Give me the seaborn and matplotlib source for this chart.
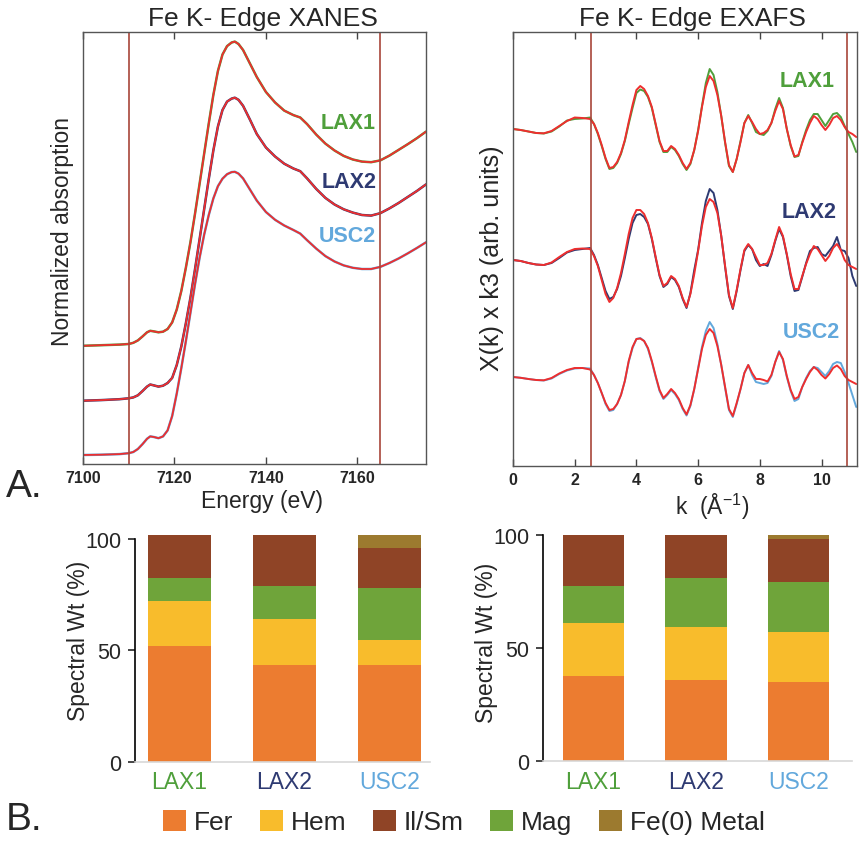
import numpy as np
import pandas as pd
import seaborn as sns
import matplotlib.pyplot as plt
from matplotlib.patches import Patch

sns.set_style('white')
plt.rcParams['font.family'] = ['Liberation Sans', 'DejaVu Sans']
plt.rcParams['mathtext.default'] = 'regular'

samples = ['LAX1', 'LAX2', 'USC2']
sample_colors = ['#4f9f3b', '#2e3a72', '#62a8dc']
fit_color = '#ee2e2e'
window_color = '#a8453a'

# Fe K-edge XANES, normalized absorption (stacked as drawn)
energy = [7100, 7104, 7108, 7110, 7111, 7112, 7113, 7114, 7114.7, 7115.5,
          7116.5, 7117.5, 7118.5, 7119.5, 7120.5, 7121.5, 7122.5, 7123.5, 7124.5, 7125.5,
          7126.5, 7127.5, 7128.5, 7129.5, 7130.5, 7131.5, 7132.5, 7133.2, 7134, 7135,
          7136.5, 7138, 7140, 7142, 7144, 7146, 7147.5, 7149, 7151, 7153,
          7155, 7157, 7159, 7161, 7163, 7165, 7167, 7169, 7171, 7173,
          7175]
xanes_lax1 = [0.394, 0.396, 0.398, 0.400, 0.404, 0.412, 0.425, 0.439, 0.444, 0.442,
              0.439, 0.441, 0.450, 0.472, 0.515, 0.577, 0.655, 0.740, 0.835, 0.935,
              1.035, 1.135, 1.230, 1.310, 1.365, 1.393, 1.405, 1.408, 1.400, 1.380,
              1.335, 1.290, 1.240, 1.205, 1.178, 1.163, 1.155, 1.133, 1.098, 1.068,
              1.045, 1.027, 1.015, 1.008, 1.006, 1.012, 1.028, 1.047, 1.066, 1.086,
              1.108]
xanes_lax2 = [0.211, 0.213, 0.216, 0.219, 0.222, 0.229, 0.243, 0.258, 0.265, 0.262,
              0.258, 0.261, 0.270, 0.287, 0.330, 0.392, 0.470, 0.555, 0.650, 0.750,
              0.850, 0.950, 1.045, 1.125, 1.180, 1.208, 1.218, 1.221, 1.214, 1.194,
              1.148, 1.100, 1.055, 1.025, 1.001, 0.985, 0.976, 0.952, 0.917, 0.887,
              0.865, 0.849, 0.838, 0.830, 0.828, 0.836, 0.852, 0.870, 0.890, 0.910,
              0.932]
xanes_usc2 = [0.030, 0.031, 0.033, 0.036, 0.040, 0.050, 0.066, 0.084, 0.092, 0.090,
              0.086, 0.092, 0.112, 0.160, 0.235, 0.320, 0.410, 0.505, 0.600, 0.688,
              0.765, 0.830, 0.885, 0.926, 0.951, 0.966, 0.973, 0.974, 0.968, 0.952,
              0.915, 0.878, 0.840, 0.814, 0.795, 0.780, 0.768, 0.746, 0.718, 0.693,
              0.675, 0.662, 0.654, 0.650, 0.650, 0.657, 0.670, 0.685, 0.702, 0.720,
              0.739]
xanes_window = [7110, 7165]

# Fe K-edge EXAFS, chi(k)*k^3 (data and LCF fit)
k = [0, 0.25, 0.5, 0.75, 1.0, 1.25, 1.5, 1.75, 2.0, 2.25,
     2.5, 2.625, 2.75, 2.875, 3.0, 3.125, 3.25, 3.375, 3.5, 3.625,
     3.75, 3.875, 4.0, 4.125, 4.25, 4.375, 4.5, 4.625, 4.75, 4.875,
     5.0, 5.125, 5.25, 5.375, 5.5, 5.625, 5.75, 5.875, 6.0, 6.125,
     6.25, 6.375, 6.5, 6.625, 6.75, 6.875, 7.0, 7.125, 7.25, 7.375,
     7.5, 7.625, 7.75, 7.875, 8.0, 8.125, 8.25, 8.375, 8.5, 8.625,
     8.75, 8.875, 9.0, 9.125, 9.25, 9.375, 9.5, 9.625, 9.75, 9.875,
     10.0, 10.125, 10.25, 10.375, 10.5, 10.625, 10.75, 10.875, 11.0, 11.125]
exafs_lax1 = [0.0, -0.1, -0.25, -0.4, -0.45, -0.25, 0.25, 0.85, 1.0, 1.05,
              1.15, 0.5, -0.5, -1.7, -3.0, -4.0, -3.9, -3.4, -2.5, -1.2,
              0.5, 2.1, 3.6, 3.95, 3.8, 3.2, 2.1, 0.4, -1.3, -2.3,
              -2.3, -1.8, -2.1, -2.7, -3.5, -4.1, -3.5, -2.1, -0.1, 2.3,
              4.6, 6.0, 5.4, 3.7, 1.3, -1.4, -3.7, -4.3, -3.0, -1.2,
              0.6, 1.4, 0.6, -0.3, -0.5, -0.6, -0.2, 0.6, 2.0, 3.1,
              2.1, 0.0, -1.7, -2.8, -2.7, -1.3, -0.1, 0.9, 1.5, 1.5,
              0.9, 0.3, 0.9, 1.5, 1.6, 1.2, 0.3, -0.5, -1.3, -2.3]
fit_lax1 = [0.0, -0.1, -0.25, -0.4, -0.43, -0.2, 0.3, 0.8, 1.15, 1.1,
            1.0, 0.5, -0.4, -1.6, -2.9, -3.9, -3.8, -3.3, -2.4, -1.1,
            0.7, 2.4, 3.9, 4.3, 4.0, 3.3, 2.2, 0.5, -1.2, -2.2,
            -2.2, -1.7, -2.0, -2.6, -3.4, -4.0, -3.4, -2.1, -0.2, 2.2,
            4.2, 5.3, 4.8, 3.4, 1.3, -1.3, -3.6, -4.3, -3.0, -1.3,
            0.6, 1.3, 0.7, 0.0, -0.5, -0.4, -0.1, 0.6, 1.8, 2.8,
            2.0, 0.0, -1.6, -2.75, -2.6, -1.4, -0.3, 0.6, 1.3, 1.0,
            0.4, -0.1, 0.4, 1.1, 1.3, 0.9, 0.2, -0.3, -0.5, -0.8]
exafs_lax2 = [0.0, -0.1, -0.3, -0.45, -0.5, -0.3, 0.2, 0.75, 1.0, 1.1,
              1.2, 0.5, -0.5, -1.8, -3.1, -3.9, -3.7, -2.9, -1.6, 0.2,
              2.1, 3.7, 4.5, 4.6, 4.3, 3.6, 2.1, 0.2, -1.6, -2.7,
              -2.4, -1.7, -2.0, -2.7, -3.9, -4.8, -3.3, -1.0, 1.0, 3.7,
              5.9, 7.1, 6.7, 5.0, 2.4, -0.7, -3.6, -4.9, -3.1, -1.0,
              0.9, 1.5, 1.1, 0.0, -0.6, -0.4, -0.6, 0.5, 1.9, 3.1,
              2.3, 0.5, -1.6, -3.1, -3.0, -1.7, -0.3, 0.9, 1.2, 1.3,
              0.6, 0.4, 0.9, 1.4, 2.3, 1.0, 0.9, 0.2, -1.6, -2.6]
fit_lax2 = [0.0, -0.1, -0.3, -0.45, -0.5, -0.25, 0.3, 0.8, 1.1, 1.15,
            1.1, 0.4, -0.6, -2.0, -3.4, -4.2, -3.8, -2.8, -1.3, 0.6,
            2.6, 4.2, 5.0, 5.0, 4.6, 3.7, 2.2, 0.3, -1.5, -2.6,
            -2.3, -1.6, -1.9, -2.6, -3.8, -4.7, -3.4, -1.4, 0.9, 3.4,
            5.3, 6.1, 5.8, 4.7, 2.4, -0.6, -3.5, -4.8, -3.0, -0.9,
            1.0, 1.6, 1.1, 0.3, -0.5, -0.5, -0.3, 0.6, 2.0, 3.3,
            2.4, 0.6, -1.4, -2.9, -2.9, -1.6, -0.4, 0.6, 1.4, 1.1,
            0.5, -0.1, 0.4, 1.2, 1.6, 1.0, 0.0, -0.5, -0.7, -0.9]
exafs_usc2 = [0.0, -0.08, -0.2, -0.3, -0.35, -0.15, 0.3, 0.65, 0.85, 0.9,
              0.85, 0.2, -0.6, -1.6, -2.7, -3.4, -3.3, -2.7, -1.8, -0.4,
              1.5, 2.9, 3.8, 3.9, 3.6, 2.8, 1.5, 0.0, -1.4, -2.2,
              -1.8, -1.3, -1.7, -2.3, -3.2, -3.85, -2.9, -1.2, 0.9, 3.0,
              4.6, 5.5, 4.9, 3.3, 1.2, -1.1, -3.3, -4.0, -2.7, -1.2,
              0.4, 1.2, 0.2, -0.5, -0.6, -0.7, -0.6, 0.1, 1.5, 2.6,
              1.7, 0.0, -1.4, -2.4, -2.2, -1.0, -0.1, 0.6, 1.0, 0.9,
              0.5, 0.1, 0.6, 1.3, 1.5, 1.4, 0.5, -0.6, -1.8, -3.0]
fit_usc2 = [0.0, -0.08, -0.2, -0.3, -0.33, -0.1, 0.35, 0.7, 0.9, 0.9,
            0.75, 0.2, -0.6, -1.6, -2.6, -3.3, -3.2, -2.7, -1.8, -0.4,
            1.6, 3.0, 3.8, 3.85, 3.6, 2.9, 1.6, 0.1, -1.3, -2.1,
            -1.7, -1.2, -1.6, -2.2, -3.1, -3.75, -2.8, -1.2, 0.8, 2.8,
            4.2, 4.8, 4.4, 3.1, 1.2, -1.0, -3.2, -3.9, -2.6, -1.2,
            0.4, 1.2, 0.4, -0.2, -0.2, -0.3, -0.45, 0.2, 1.5, 2.5,
            1.8, 0.1, -1.3, -2.2, -2.0, -1.0, -0.2, 0.5, 1.0, 0.7,
            0.2, -0.15, 0.3, 0.9, 1.15, 0.8, 0.1, -0.3, -0.5, -0.7]
exafs_window = [2.52, 10.82]

# LCF spectral weights (%), stacking order bottom -> top
phases = ['Fer', 'Hem', 'Mag', 'Il/Sm', 'Fe(0) Metal']
phase_colors = ['#ec7c30', '#f8bc2c', '#6fa43a', '#8f4426', '#9c7a2f']
xanes_fer = [52.2, 43.5, 43.5]
xanes_hem = [20.1, 20.6, 11.2]
xanes_mag = [10.1, 15.0, 23.2]
xanes_ilsm = [19.4, 22.7, 17.9]
xanes_fe0 = [0.0, 0.0, 6.0]
exafs_fer = [37.8, 36.1, 34.9]
exafs_hem = [23.3, 23.4, 22.4]
exafs_mag = [16.2, 21.4, 21.8]
exafs_ilsm = [22.7, 19.1, 19.2]
exafs_fe0 = [0.0, 0.0, 1.7]

W, H = 860, 845
fig = plt.figure(figsize=(W / 100, H / 100), dpi=100)


def box(l, t, r, b):
    return [l / W, 1 - b / H, (r - l) / W, (b - t) / H]


def frame(ax):
    for s in ax.spines.values():
        s.set_visible(True)
        s.set_color('#555555')
        s.set_linewidth(1.0)
    ax.set_yticks([])
    ax.tick_params(axis='x', direction='in', top=True, bottom=True, length=5,
                   width=1, color='#444444', labelsize=11.5, pad=4)


# ---- XANES
ax1 = fig.add_axes(box(83, 33, 426, 465))
for y, c in zip([xanes_lax1, xanes_lax2, xanes_usc2], sample_colors):
    sns.lineplot(x=energy, y=y, color=c, lw=1.8, estimator=None, ax=ax1)
    sns.lineplot(x=energy, y=y, color=fit_color, lw=1.3, estimator=None, ax=ax1)
for xv in xanes_window:
    ax1.axvline(xv, color=window_color, lw=1.2)
ax1.set_xlim(7100, 7175)
ax1.set_ylim(0, 1.44)
frame(ax1)
ax1.set_xticks([7100, 7120, 7140, 7160])
ax1.set_xticklabels(['7100', '7120', '7140', '7160'], fontweight='bold')
ax1.set_title('Fe K- Edge XANES', fontsize=19, x=0.525, pad=5)
ax1.set_xlabel('Energy (eV)', fontsize=16.5)
ax1.xaxis.set_label_coords(0.522, -0.058)
for name, c, (xl, yl) in zip(samples, sample_colors,
                             [(7164, 1.14), (7164.3, 0.943), (7164, 0.76)]):
    ax1.text(xl, yl, name, color=c, fontsize=15.5, fontweight='bold',
             ha='right', va='center')
fig.text(63 / W, 1 - 232 / H, 'Normalized absorption', rotation=90,
         ha='center', va='center', fontsize=16.5)

# ---- EXAFS
ax2 = fig.add_axes(box(513, 33, 857, 467))
offsets = [0, -13.1, -24.8]
for d, f, c, off in zip([exafs_lax1, exafs_lax2, exafs_usc2],
                        [fit_lax1, fit_lax2, fit_usc2], sample_colors, offsets):
    sns.lineplot(x=k, y=np.array(d) + off, color=c, lw=1.4, estimator=None, ax=ax2)
    sns.lineplot(x=k, y=np.array(f) + off, color=fit_color, lw=1.4, estimator=None, ax=ax2)
for xv in exafs_window:
    ax2.axvline(xv, color=window_color, lw=1.2)
ax2.set_xlim(0, 11.15)
ax2.set_ylim(-33.7, 9.7)
frame(ax2)
ax2.set_xticks([0, 2, 4, 6, 8, 10])
ax2.set_xticklabels(['0', '2', '4', '6', '8', '10'], fontweight='bold')
ax2.set_title('Fe K- Edge EXAFS', fontsize=19, x=0.522, pad=5)
ax2.set_xlabel('k  (Å$^{-1}$)', fontsize=16.5)
ax2.xaxis.set_label_coords(0.58, -0.056)
for name, c, (xl, yl) in zip(samples, sample_colors,
                             [(10.42, 4.8), (10.48, -8.3), (10.59, -20.3)]):
    ax2.text(xl, yl, name, color=c, fontsize=15.5, fontweight='bold',
             ha='right', va='center')
fig.text(492 / W, 1 - 258 / H, 'X(k) x k3 (arb. units)', rotation=90,
         ha='center', va='center', fontsize=18)


# ---- spectral weight bars
def stacked(ax, parts, xlim, ylim):
    cum = np.cumsum(np.array(parts), axis=0)
    df = pd.DataFrame(cum.T, columns=phases)
    df['sample'] = samples
    for i in reversed(range(len(phases))):
        sns.barplot(data=df, x='sample', y=phases[i], color=phase_colors[i],
                    width=0.6, saturation=1, linewidth=0, order=samples, ax=ax)
    ax.set_xlim(*xlim)
    ax.set_ylim(*ylim)
    ax.set_xlabel('')
    ax.set_ylabel('')
    ax.set_yticks([0, 50, 100])
    for s in ['top', 'right']:
        ax.spines[s].set_visible(False)
    ax.spines['left'].set_color('black')
    ax.spines['left'].set_linewidth(1.2)
    ax.spines['left'].set_bounds(0, 100)
    ax.spines['bottom'].set_color('#d8d8d8')
    ax.spines['bottom'].set_linewidth(1.2)
    ax.tick_params(axis='y', left=True, direction='out', length=5, width=1.2,
                   labelsize=15.5, pad=5)
    ax.tick_params(axis='x', bottom=False, length=0, labelsize=16.5, pad=6)
    for lbl, c in zip(ax.get_xticklabels(), sample_colors):
        lbl.set_color(c)


ax3 = fig.add_axes(box(135, 535.5, 430, 763))
stacked(ax3, [xanes_fer, xanes_hem, xanes_mag, xanes_ilsm, xanes_fe0],
        (-0.425, 2.39), (0, 102))
fig.text(79 / W, 1 - 641 / H, 'Spectral Wt (%)', rotation=90,
         ha='center', va='center', fontsize=16.5)

ax4 = fig.add_axes(box(543, 533.7, 852, 762.3))
stacked(ax4, [exafs_fer, exafs_hem, exafs_mag, exafs_ilsm, exafs_fe0],
        (-0.49, 2.52), (0, 101))
fig.text(486 / W, 1 - 643 / H, 'Spectral Wt (%)', rotation=90,
         ha='center', va='center', fontsize=16.5)

# legend (Fer, Hem, Il/Sm, Mag, Fe(0) Metal)
legend_order = [0, 1, 3, 2, 4]
handles = [Patch(facecolor=phase_colors[i], edgecolor='none') for i in legend_order]
labels = [phases[i] for i in legend_order]
fig.legend(handles, labels, loc='center', bbox_to_anchor=(464 / W, 1 - 823 / H),
           ncol=5, frameon=False, fontsize=19, handlelength=0.87,
           handleheight=0.87, handletextpad=0.3, columnspacing=1.0,
           borderpad=0, borderaxespad=0)

fig.text(6 / W, 1 - 487 / H, 'A.', fontsize=28, ha='left', va='center')
fig.text(6 / W, 1 - 820 / H, 'B.', fontsize=28, ha='left', va='center')

fig.savefig('out.png', dpi=100)
